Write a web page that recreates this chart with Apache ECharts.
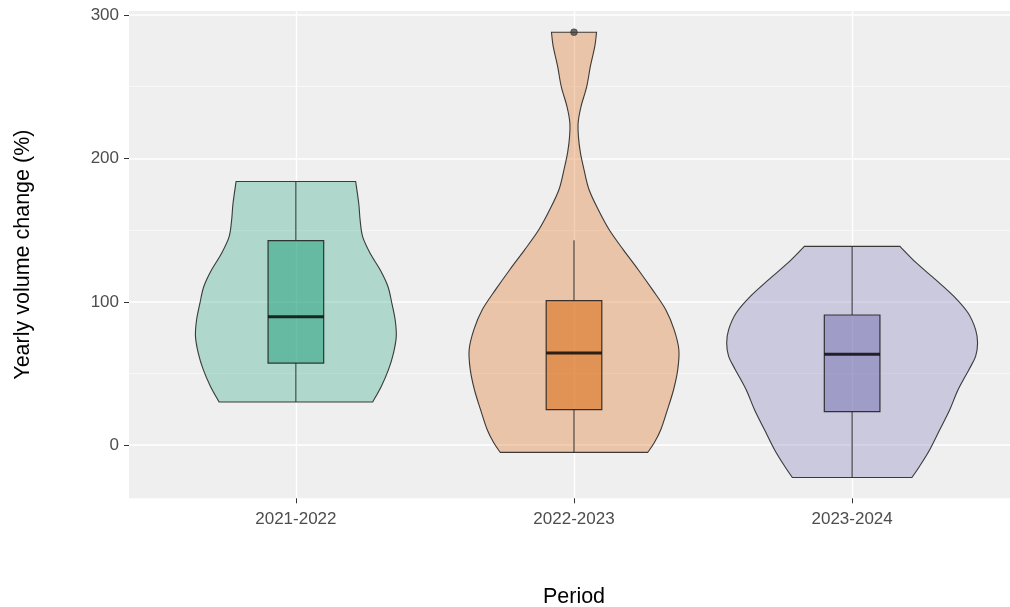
<!DOCTYPE html>
<html>
<head>
<meta charset="utf-8">
<script src="https://cdn.jsdelivr.net/npm/echarts@6/dist/echarts.min.js"></script>
<style>
  html, body { margin: 0; padding: 0; background: #ffffff; }
  #chart { width: 1010px; height: 607px; }
</style>
</head>
<body>
<div id="chart"></div>
<script>
// Periods on the x axis and the tick values on the y axis
const periods = ['2021-2022', '2022-2023', '2023-2024'];
const yTicks = [0, 100, 200, 300];
const yMinorTicks = [50, 150, 250];

// Violin outlines: density levels (%) and half-widths (in category units)
const violinLevels2122 = [30.1, 41.0, 52.7, 64.3, 75.9, 87.5, 99.1, 110.7, 122.3, 133.9, 145.5, 157.1, 168.7, 183.9];
const violinWidths2122 = [0.276, 0.307, 0.333, 0.351, 0.361, 0.357, 0.345, 0.331, 0.303, 0.267, 0.240, 0.231, 0.226, 0.215];

const violinLevels2223 = [-5.0, 1.5, 10.8, 24.8, 38.7, 52.7, 66.6, 80.6, 94.5, 108.5, 122.4, 136.4, 150.4, 164.3, 178.3, 192.2, 204, 215, 225, 236, 250.3, 264.3, 278.3, 288];
const violinWidths2223 = [0.265, 0.288, 0.312, 0.336, 0.358, 0.373, 0.377, 0.360, 0.330, 0.282, 0.231, 0.177, 0.126, 0.087, 0.054, 0.036, 0.023, 0.016, 0.015, 0.025, 0.046, 0.059, 0.075, 0.081];

const violinLevels2324 = [-22.5, -14.8, -3.1, 10.8, 24.8, 38.7, 52.7, 62.0, 71.3, 80.6, 92.2, 103.8, 115.5, 127.1, 138.7];
const violinWidths2324 = [0.215, 0.242, 0.279, 0.315, 0.351, 0.381, 0.420, 0.444, 0.451, 0.444, 0.417, 0.366, 0.300, 0.231, 0.172];

// Box plot statistics per period
const whiskerLow  = [30.1, -5.0, -22.5];
const q1          = [57.3, 24.8, 23.4];
const median      = [89.6, 64.3, 63.4];
const q3          = [142.7, 100.8, 90.8];
const whiskerHigh = [183.9, 142.9, 138.7];
const outliers    = [[], [288], []];

const violinLevels = [violinLevels2122, violinLevels2223, violinLevels2324];
const violinWidths = [violinWidths2122, violinWidths2223, violinWidths2324];

const palette = [[27, 158, 119], [217, 95, 2], [117, 112, 179]];
const rgba = (c, a) => `rgba(${c[0]},${c[1]},${c[2]},${a})`;
const BOX_HALF = 0.1;
const FONT = '"Liberation Sans", Arial, sans-serif';

// Catmull-Rom curve through pixel points, written as cubic bezier path commands
function curveThrough(pts) {
  let d = '';
  for (let k = 0; k < pts.length - 1; k++) {
    const p0 = pts[Math.max(k - 1, 0)];
    const p1 = pts[k];
    const p2 = pts[k + 1];
    const p3 = pts[Math.min(k + 2, pts.length - 1)];
    const c1 = [p1[0] + (p2[0] - p0[0]) / 6, p1[1] + (p2[1] - p0[1]) / 6];
    const c2 = [p2[0] - (p3[0] - p1[0]) / 6, p2[1] - (p3[1] - p1[1]) / 6];
    d += ` C ${c1[0]} ${c1[1]} ${c2[0]} ${c2[1]} ${p2[0]} ${p2[1]}`;
  }
  return d;
}

function renderViolinBox(params, api) {
  const i = api.value(0);
  const col = palette[i];
  const levels = violinLevels[i];
  const widths = violinWidths[i];

  const right = levels.map((v, k) => api.coord([i + widths[k], v]));
  const left = levels.map((v, k) => api.coord([i - widths[k], v])).reverse();
  let d = `M ${left[left.length - 1][0]} ${left[left.length - 1][1]} L ${right[0][0]} ${right[0][1]}`;
  d += curveThrough(right);
  d += ` L ${left[0][0]} ${left[0][1]}`;
  d += curveThrough(left);
  d += ' Z';

  const children = [];
  children.push({
    type: 'path',
    shape: { pathData: d },
    style: { fill: rgba(col, 0.3), stroke: 'rgba(40,40,40,0.9)', lineWidth: 1.1 }
  });

  const top = api.coord([i, whiskerHigh[i]]);
  const boxTop = api.coord([i, q3[i]]);
  const boxBottom = api.coord([i, q1[i]]);
  const bottom = api.coord([i, whiskerLow[i]]);
  const lineStyle = { stroke: 'rgba(40,40,40,0.9)', lineWidth: 1.1 };
  children.push({ type: 'line', shape: { x1: top[0], y1: top[1], x2: boxTop[0], y2: boxTop[1] }, style: lineStyle });
  children.push({ type: 'line', shape: { x1: boxBottom[0], y1: boxBottom[1], x2: bottom[0], y2: bottom[1] }, style: lineStyle });

  const tl = api.coord([i - BOX_HALF, q3[i]]);
  const br = api.coord([i + BOX_HALF, q1[i]]);
  children.push({
    type: 'rect',
    shape: { x: tl[0], y: tl[1], width: br[0] - tl[0], height: br[1] - tl[1] },
    style: { fill: rgba(col, 0.5), stroke: 'rgba(35,35,35,0.9)', lineWidth: 1.2 }
  });

  const mL = api.coord([i - BOX_HALF, median[i]]);
  const mR = api.coord([i + BOX_HALF, median[i]]);
  children.push({
    type: 'line',
    shape: { x1: mL[0], y1: mL[1], x2: mR[0], y2: mR[1] },
    style: { stroke: 'rgba(10,10,10,0.85)', lineWidth: 3 }
  });

  outliers[i].forEach(v => {
    const p = api.coord([i, v]);
    children.push({
      type: 'circle',
      shape: { cx: p[0], cy: p[1], r: 3.4 },
      style: { fill: 'rgba(60,60,60,0.75)', stroke: 'rgba(40,40,40,0.8)', lineWidth: 0.6 }
    });
  });

  return { type: 'group', children };
}

const chart = echarts.init(document.getElementById('chart'), null, { renderer: 'canvas' });

chart.setOption({
  animation: false,
  backgroundColor: '#ffffff',
  grid: {
    left: 129, right: -9, top: 11, bottom: 108.7,
    outerBoundsMode: 'none',
    containLabel: false,
    show: true, backgroundColor: '#EFEFEF', borderWidth: 0
  },
  xAxis: {
    type: 'value',
    min: -0.6, max: 2.6,
    name: 'Period',
    nameLocation: 'middle',
    nameGap: 88,
    nameTextStyle: { color: '#000000', fontSize: 21.5, fontFamily: FONT },
    axisLine: { show: false, onZero: false },
    axisTick: { show: true, length: 5, lineStyle: { color: '#333333', width: 1 }, customValues: [0, 1, 2] },
    axisLabel: {
      customValues: [0, 1, 2],
      formatter: v => periods[Math.round(v)],
      color: '#4D4D4D', fontSize: 17, fontFamily: FONT, margin: 12.5
    },
    splitLine: { show: true, lineStyle: { color: '#FFFFFF', width: 1.4 } }
  },
  yAxis: [
    {
      type: 'value',
      min: -37, max: 302.8,
      name: 'Yearly volume change (%)',
      nameLocation: 'middle',
      nameGap: 95,
      nameTextStyle: { color: '#000000', fontSize: 21.5, fontFamily: FONT },
      axisLine: { show: false, onZero: false },
      axisTick: { show: true, length: 5, lineStyle: { color: '#333333', width: 1 }, customValues: yTicks },
      axisLabel: { customValues: yTicks, color: '#4D4D4D', fontSize: 17, fontFamily: FONT, margin: 10 },
      splitLine: { show: true, lineStyle: { color: '#FFFFFF', width: 1.5 } }
    },
    {
      type: 'value',
      min: -37, max: 302.8,
      position: 'left',
      axisLine: { show: false, onZero: false },
      axisTick: { show: false, customValues: yMinorTicks },
      axisLabel: { show: false, customValues: yMinorTicks },
      splitLine: { show: true, lineStyle: { color: '#FAFAFA', width: 0.8 } }
    }
  ],
  series: [{
    type: 'custom',
    xAxisIndex: 0,
    yAxisIndex: 0,
    clip: false,
    renderItem: renderViolinBox,
    encode: { x: 0, y: 1 },
    data: periods.map((p, i) => [i, median[i]])
  }]
});
</script>
</body>
</html>
